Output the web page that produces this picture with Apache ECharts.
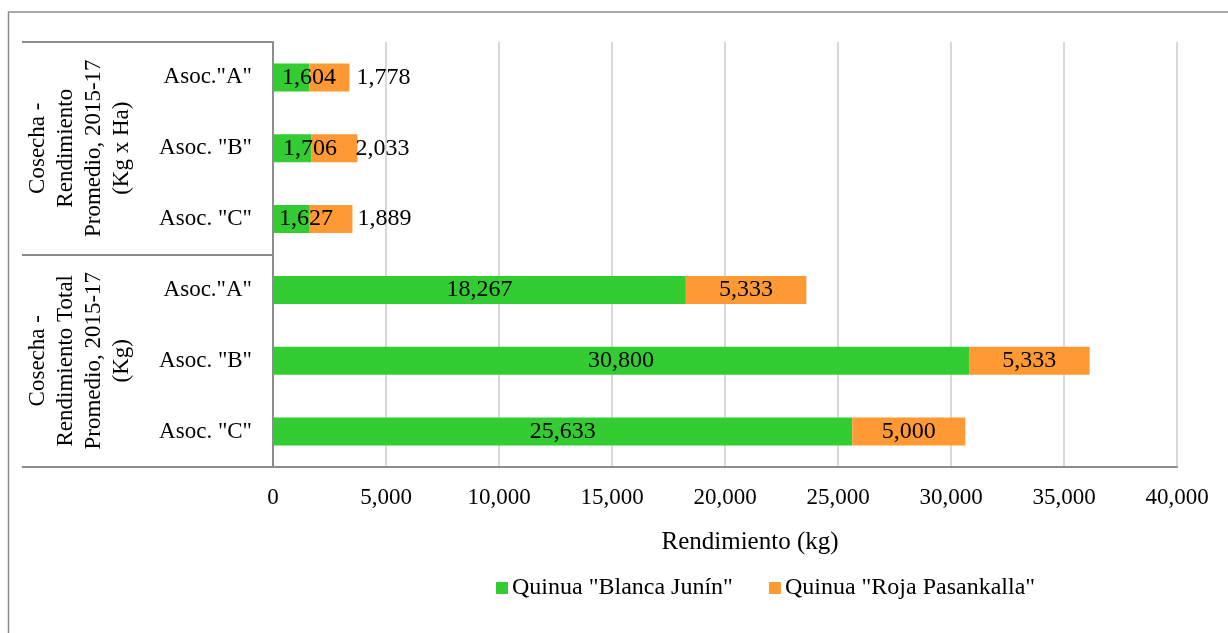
<!DOCTYPE html>
<html>
<head>
<meta charset="utf-8">
<script src="https://cdn.jsdelivr.net/npm/echarts@6/dist/echarts.min.js"></script>
<style>
  html, body { margin: 0; padding: 0; background: #fff; }
  #chart { width: 1228px; height: 633px; }
</style>
</head>
<body>
<div id="chart"></div>
<script>
// Associations (top to bottom, repeated for each measure group)
const categories = ['Asoc."A"', 'Asoc. "B"', 'Asoc. "C"', 'Asoc."A"', 'Asoc. "B"', 'Asoc. "C"'];
// Measure groups, one per three associations
const groupLabels = [
  ['Cosecha -', 'Rendimiento', 'Promedio, 2015-17', '(Kg x Ha)'],
  ['Cosecha -', 'Rendimiento Total', 'Promedio, 2015-17', '(Kg)']
];
const seriesNames = ['Quinua "Blanca Junín"', 'Quinua "Roja Pasankalla"'];
const blancaJunin = [1604, 1706, 1627, 18267, 30800, 25633];
const rojaPasankalla = [1778, 2033, 1889, 5333, 5333, 5000];
const xTicks = { min: 0, max: 40000, interval: 5000 };

// Label placement for the short per-hectare bars
const blancaLabelPlacement = [
  { position: 'insideLeft', distance: 9 },
  { position: 'insideLeft', distance: 10 },
  { position: 'insideLeft', distance: 6 },
  null, null, null
];
const rojaLabelPlacement = [
  { position: 'right', distance: 7 },
  { position: 'right', distance: -2 },
  { position: 'right', distance: 5 },
  null, null, null
];

const FONT = "'Liberation Serif', 'Times New Roman', serif";
const AXIS_GRAY = '#8c8c8c';
const fmt = v => v.toLocaleString('en-US');

function buildData(values, placement) {
  return values.map((v, i) => {
    const p = placement[i];
    return p ? { value: v, label: { position: p.position, distance: p.distance } } : v;
  });
}

const labelStyle = {
  show: true,
  position: 'inside',
  color: '#000',
  fontFamily: FONT,
  fontSize: 24,
  formatter: p => fmt(p.value)
};

const chart = echarts.init(document.getElementById('chart'), null, { renderer: 'canvas' });

chart.setOption({
  animation: false,
  textStyle: { fontFamily: FONT },
  graphic: [{
    type: 'rect',
    shape: { x: 8.5, y: 12, width: 1400, height: 800 },
    style: { fill: 'none', stroke: AXIS_GRAY, lineWidth: 1.5 },
    silent: true,
    z: -10
  }],
  grid: { left: 273, right: 51, top: 42, bottom: 166, containLabel: false },
  legend: {
    data: seriesNames,
    left: 491,
    top: 571,
    itemWidth: 12,
    itemHeight: 12,
    itemGap: 36,
    icon: 'rect',
    textStyle: { fontFamily: FONT, fontSize: 24, color: '#000', padding: [0, 0, 0, -1] }
  },
  xAxis: {
    type: 'value',
    min: xTicks.min,
    max: xTicks.max,
    interval: xTicks.interval,
    name: 'Rendimiento (kg)',
    nameLocation: 'middle',
    nameGap: 63,
    nameTextStyle: { fontFamily: FONT, fontSize: 25, color: '#000', padding: [0, 0, 0, 50] },
    axisLine: { show: true, lineStyle: { color: AXIS_GRAY, width: 2 } },
    axisTick: { show: false },
    axisLabel: { margin: 19, fontFamily: FONT, fontSize: 23, color: '#000', formatter: v => fmt(v) },
    splitLine: { show: true, lineStyle: { color: '#d9d9d9', width: 2 } }
  },
  yAxis: [{
    type: 'category',
    data: categories,
    inverse: true,
    position: 'left',
    axisLine: { show: true, lineStyle: { color: AXIS_GRAY, width: 2 } },
    axisTick: { show: false },
    axisLabel: { margin: 21, fontFamily: FONT, fontSize: 23, color: '#000', interval: 0 },
    splitLine: { show: false }
  }, {
    type: 'category',
    data: groupLabels.map(g => g.join('\n')),
    inverse: true,
    position: 'left',
    offset: 0,
    axisLine: { show: false },
    axisTick: { show: true, interval: 0, length: 251, lineStyle: { color: AXIS_GRAY, width: 2 } },
    axisLabel: {
      interval: 0,
      rotate: 90,
      margin: 137,
      fontFamily: FONT,
      fontSize: 23,
      lineHeight: 28,
      color: '#000',
      align: 'center'
    },
    splitLine: { show: false }
  }],
  series: [{
    name: seriesNames[0],
    type: 'bar',
    stack: 'total',
    yAxisIndex: 0,
    barWidth: 28,
    itemStyle: { color: '#33cc33' },
    label: labelStyle,
    data: buildData(blancaJunin, blancaLabelPlacement)
  }, {
    name: seriesNames[1],
    type: 'bar',
    stack: 'total',
    yAxisIndex: 0,
    barWidth: 28,
    itemStyle: { color: '#ff9933' },
    label: labelStyle,
    data: buildData(rojaPasankalla, rojaLabelPlacement)
  }]
});
</script>
</body>
</html>
